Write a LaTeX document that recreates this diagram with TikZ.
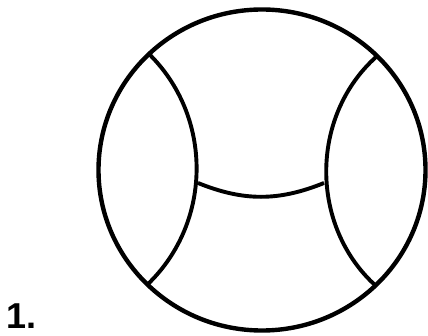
\documentclass[tikz,border=0pt]{standalone}
\usepackage{fontspec}
\setmainfont{Liberation Sans}
\usetikzlibrary{positioning}

\begin{document}
\begin{tikzpicture}[
  x=1pt, y=-1pt,
  rim/.style={line width=4.4pt},
  seam/.style={line width=3.9pt},
  numlabel/.style={font=\fontsize{36}{36}\selectfont\bfseries, inner sep=0pt, anchor=base west},
]
\useasboundingbox (0,0) rectangle (428,336);

% ---- ball ----
\draw[rim] (262,170) ellipse [x radius=163.5, y radius=160.5];

% ---- seam ends ----
\coordinate (lt) at (148,53);
\coordinate (lb) at (148,284);
\coordinate (rt) at (376,57);
\coordinate (rb) at (376,286);
\coordinate (lm) at (198,183);
\coordinate (rm) at (324,183);

% ---- seams ----
\draw[seam] (lt) to[bend left=46] (lb);
\draw[seam] (rt) to[bend right=48] (rb);
\draw[seam] (lm) to[bend right=22] (rm);

% ---- label ----
\node[numlabel] (num) at (6,329) {1.};

\end{tikzpicture}
\end{document}
